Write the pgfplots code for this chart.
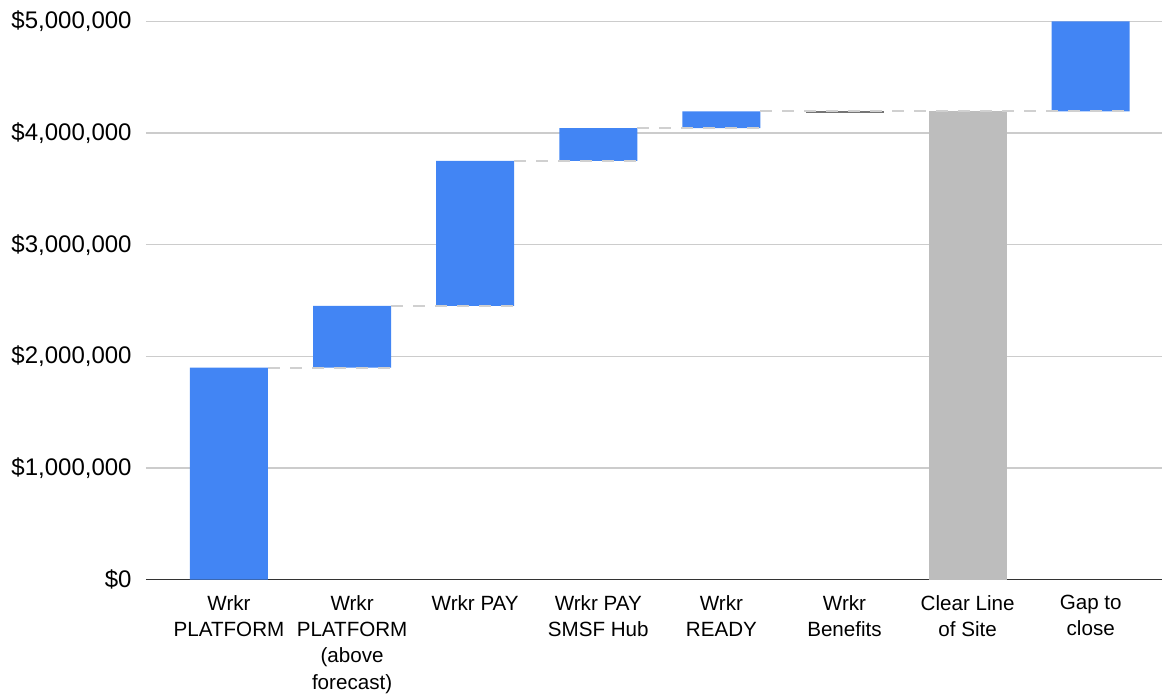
\documentclass[border=0pt]{standalone}
\usepackage{pgfplots}
\pgfplotsset{compat=1.18}
\usepackage{pgfplotstable}
\usepackage{fontspec}
\setmainfont{Liberation Sans}
\definecolor{gblue}{HTML}{4285F4}
\definecolor{ggray}{HTML}{BDBDBD}
\definecolor{gdark}{HTML}{757575}
\definecolor{gridc}{HTML}{CCCCCC}
\definecolor{conn}{HTML}{D0D0D0}
\definecolor{axisc}{HTML}{333333}

\pgfplotstableread{
x base blue gray dark
0 0 1900000 0 0
1 1900000 552000 0 0
2 2452000 1300000 0 0
3 3752000 293000 0 0
4 4045000 149000 0 0
5 4178000 0 0 18000
6 0 0 4194000 0
7 4194000 806000 0 0
}\bars

\begin{document}
\begin{tikzpicture}
\useasboundingbox (-73pt,-57.5pt) rectangle (508pt,289.85pt);
\begin{axis}[
  at={(0,0)}, anchor=south west,
  scale only axis, width=508pt, height=279.15pt,
  xmin=-0.674, xmax=7.579, ymin=0, ymax=5000000,
  ybar stacked, bar width=39pt,
  axis line style={draw=none},
  major tick length=0pt,
  ymajorgrids, grid style={color=gridc, line width=0.6pt},
  ytick={0,1000000,2000000,3000000,4000000,5000000},
  scaled y ticks=false,
  /pgf/number format/assume math mode=true,
  yticklabel={\$\pgfmathprintnumber[fixed,precision=0,1000 sep={,}]{\tick}},
  yticklabel style={font=\fontsize{12}{14}\selectfont, inner sep=0pt, xshift=-7pt},
  xtick={0,1,2,3,4,5,6,7},
  xticklabels={{Wrkr\\PLATFORM},{Wrkr\\PLATFORM\\(above\\forecast)},{Wrkr PAY},{Wrkr PAY\\SMSF Hub},{Wrkr\\READY},{Wrkr\\Benefits},{Clear Line\\of Site},{Gap to\\close}},
  xticklabel style={font=\fontsize{10.3}{13.2}\selectfont, align=center, anchor=north, inner sep=0pt, yshift=-7.5pt},
  clip=false,
]
\addplot[sharp plot, stack plots=false, forget plot, draw=conn, line width=1pt, dash pattern=on 6pt off 5pt] coordinates {(0.317,1900000) (1.317,1900000)};
\addplot[sharp plot, stack plots=false, forget plot, draw=conn, line width=1pt, dash pattern=on 6pt off 5pt] coordinates {(1.317,2452000) (2.317,2452000)};
\addplot[sharp plot, stack plots=false, forget plot, draw=conn, line width=1pt, dash pattern=on 6pt off 5pt] coordinates {(2.317,3752000) (3.317,3752000)};
\addplot[sharp plot, stack plots=false, forget plot, draw=conn, line width=1pt, dash pattern=on 6pt off 5pt] coordinates {(3.317,4045000) (4.317,4045000)};
\addplot[sharp plot, stack plots=false, forget plot, draw=conn, line width=1pt, dash pattern=on 6pt off 5pt] coordinates {(4.317,4194000) (7.317,4194000)};
\addplot[draw=none, fill=none] table[x=x, y=base] {\bars};
\addplot[draw=none, fill=gblue] table[x=x, y=blue] {\bars};
\addplot[draw=none, fill=ggray] table[x=x, y=gray] {\bars};
\addplot[draw=none, fill=gdark] table[x=x, y=dark] {\bars};
\draw[axisc, line width=0.8pt] (rel axis cs:0,0) -- (rel axis cs:1,0);
\end{axis}
\end{tikzpicture}
\end{document}
